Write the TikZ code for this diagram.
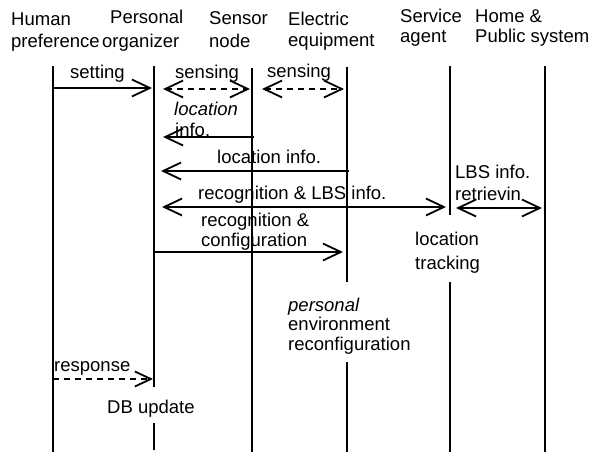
\documentclass[tikz,border=0pt]{standalone}
\usepackage{fontspec}
\setmainfont{Liberation Sans}
\usetikzlibrary{arrows.meta}
\begin{document}
\begin{tikzpicture}[x=1pt,y=-1pt,
  lbl/.style={anchor=base west,inner sep=0pt,font=\fontsize{18.5}{21}\selectfont},
  life/.style={line width=1.8pt},
  msg/.style={line width=1.8pt,-{Straight Barb[length=18pt,width=17pt,line width=1.8pt]}},
  dmsg/.style={line width=1.8pt,{Straight Barb[length=18pt,width=17pt,line width=1.8pt]}-{Straight Barb[length=18pt,width=17pt,line width=1.8pt]},dash pattern=on 6pt off 5pt},
  bmsg/.style={line width=1.8pt,{Straight Barb[length=18pt,width=17pt,line width=1.8pt]}-{Straight Barb[length=18pt,width=17pt,line width=1.8pt]}},
  rmsg/.style={line width=1.8pt,-{Straight Barb[length=16pt,width=15pt,line width=1.8pt]},dash pattern=on 6pt off 5pt}]
\useasboundingbox[fill=white] (0,0) rectangle (607,455);
% headers
\node[lbl] (h1a) at (11,25.5) {Human};
\node[lbl] (h1b) at (11,47) {preference};
\node[lbl] (h2a) at (110,23) {Personal};
\node[lbl] (h2b) at (102,47) {organizer};
\node[lbl] (h3a) at (209,24.5) {Sensor};
\node[lbl] (h3b) at (209,47) {node};
\node[lbl] (h4a) at (288,25) {Electric};
\node[lbl] (h4b) at (288,46) {equipment};
\node[lbl] (h5a) at (400,22) {Service};
\node[lbl] (h5b) at (400,42) {agent};
\node[lbl] (h6a) at (475,22) {Home \&};
\node[lbl] (h6b) at (475,42) {Public system};
% lifelines
\coordinate (HuT) at (53,66);   \coordinate (HuB) at (53,452);
\coordinate (PoT) at (154,66);  \coordinate (PoM) at (154,387);
\coordinate (PoN) at (154,423); \coordinate (PoB) at (154,450);
\coordinate (SnT) at (252,68);  \coordinate (SnB) at (252,452);
\coordinate (EeT) at (347,67);  \coordinate (EeM) at (347,282);
\coordinate (EeN) at (347,362); \coordinate (EeB) at (347,452);
\coordinate (SaT) at (450,66);  \coordinate (SaM) at (450,215);
\coordinate (SaN) at (450,282); \coordinate (SaB) at (450,452);
\coordinate (HpT) at (545,66);  \coordinate (HpB) at (545,452);
\draw[life] (HuT) -- (HuB);
\draw[life] (PoT) -- (PoM);
\draw[life] (PoN) -- (PoB);
\draw[life] (SnT) -- (SnB);
\draw[life] (EeT) -- (EeM);
\draw[life] (EeN) -- (EeB);
\draw[life] (SaT) -- (SaM);
\draw[life] (SaN) -- (SaB);
\draw[life] (HpT) -- (HpB);
% message end points
\coordinate (m1a) at (53,88);    \coordinate (m1b) at (152,88);
\coordinate (m2a) at (163,89);   \coordinate (m2b) at (250,89);
\coordinate (m3a) at (262,89);   \coordinate (m3b) at (344,89);
\coordinate (m4a) at (254,137);  \coordinate (m4b) at (163,137);
\coordinate (m5a) at (349,171);  \coordinate (m5b) at (161,171);
\coordinate (m6a) at (162,207);  \coordinate (m6b) at (446,207);
\coordinate (m7a) at (456,208);  \coordinate (m7b) at (542,208);
\coordinate (m8a) at (154,252);  \coordinate (m8b) at (343,252);
\coordinate (m9a) at (53,379);   \coordinate (m9b) at (153,379);
\draw[msg] (m1a) -- (m1b);
\draw[dmsg] (m2a) -- (m2b);
\draw[dmsg] (m3a) -- (m3b);
\draw[msg] (m4a) -- (m4b);
\draw[msg] (m5a) -- (m5b);
\draw[bmsg] (m6a) -- (m6b);
\draw[bmsg] (m7a) -- (m7b);
\draw[msg] (m8a) -- (m8b);
\draw[rmsg] (m9a) -- (m9b);
% labels
\node[lbl] (t1) at (70,78) {setting};
\node[lbl] (t2) at (175,78) {sensing};
\node[lbl] (t3) at (267,77) {sensing};
\node[lbl] (t4a) at (174,115) {\itshape location};
\node[lbl] (t4b) at (175,136) {info.};
\node[lbl] (t5) at (217,163) {location info.};
\node[lbl] (t6) at (198,199) {recognition \& LBS info.};
\node[lbl] (t7a) at (455,178) {LBS info.};
\node[lbl] (t7b) at (455,200) {retrievin};
\node[lbl] (t8a) at (201,226) {recognition \&};
\node[lbl] (t8b) at (201,246) {configuration};
\node[lbl] (t9a) at (415,245) {location};
\node[lbl] (t9b) at (415,269) {tracking};
\node[lbl] (t10a) at (288,311) {\itshape personal};
\node[lbl] (t10b) at (288,330) {environment};
\node[lbl] (t10c) at (288,350) {reconfiguration};
\node[lbl] (t11) at (54,371) {response};
\node[lbl] (t12) at (107,413) {DB update};
\end{tikzpicture}
\end{document}
